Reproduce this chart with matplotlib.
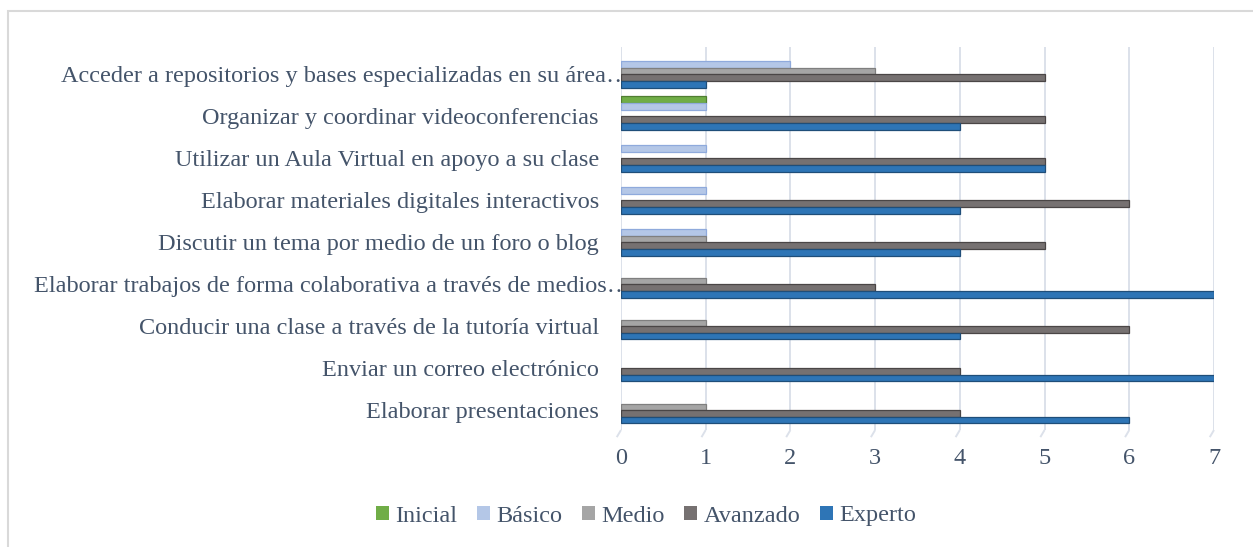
import matplotlib
matplotlib.use("Agg")
import matplotlib.pyplot as plt
import matplotlib.transforms as mtransforms
from matplotlib.patches import Rectangle, Patch
import numpy as np

categories = [
    "Elaborar presentaciones",
    "Enviar un correo electrónico",
    "Conducir una clase a través de la tutoría virtual",
    "Elaborar trabajos de forma colaborativa a través de medios…",
    "Discutir un tema por medio de un foro o blog",
    "Elaborar materiales digitales interactivos",
    "Utilizar un Aula Virtual en apoyo a su clase",
    "Organizar y coordinar videoconferencias",
    "Acceder a repositorios y bases especializadas en su área…",
]
series_names = ["Inicial", "Básico", "Medio", "Avanzado", "Experto"]
inicial  = [0, 0, 0, 0, 0, 0, 0, 1, 0]
basico   = [0, 0, 0, 0, 1, 1, 1, 1, 2]
medio    = [1, 0, 1, 1, 1, 0, 0, 0, 3]
avanzado = [4, 4, 6, 3, 5, 6, 5, 5, 5]
experto  = [6, 7, 4, 7, 4, 4, 5, 4, 1]
xticks = [0, 1, 2, 3, 4, 5, 6, 7]

colors = ["#70AD47", "#B4C7E7", "#A5A5A5", "#767171", "#2E75B6"]
edges = ["#507E32", "#8FAADC", "#7F7F7F", "#4A4646", "#1F4E79"]
text_color = "#44546A"
grid_color = "#DCE1EA"
font = "Liberation Serif"

W, H = 1253, 547
fig = plt.figure(figsize=(W / 100, H / 100), dpi=100)
ax = fig.add_axes([621 / W, 1 - 430 / H, (1214 - 621) / W, (430 - 47) / H])

y = np.arange(len(categories))
h = 0.158
data = [inicial, basico, medio, avanzado, experto]
for j, (vals, c, ec, name) in enumerate(zip(data, colors, edges, series_names)):
    vals = np.asarray(vals)
    mask = vals > 0
    ax.barh((y + (2 - j) * h)[mask], vals[mask], height=h, color=c,
            edgecolor=ec, linewidth=0.9, label=name, zorder=3)

ax.set_xlim(0, 7)
ax.set_ylim(-0.55, 8.57)
ax.set_xticks(xticks)
ax.set_xticklabels([str(t) for t in xticks], fontfamily=font, fontsize=17.5,
                   color=text_color)
ax.set_yticks(y)
ax.set_yticklabels(categories, fontfamily=font, fontsize=17.5, color=text_color)
ax.tick_params(axis="both", length=0)
ax.tick_params(axis="x", pad=13)
ax.tick_params(axis="y", pad=16)
ax.xaxis.grid(True, color=grid_color, linewidth=1.4, zorder=0)
ax.set_axisbelow(True)
for s in ax.spines.values():
    s.set_visible(False)

# small perspective foot under each gridline (as in the 3-D style original)
y0 = ax.get_ylim()[0]
for t in xticks:
    ax.plot([t, t - 0.05], [y0, y0 - 0.17], color=grid_color, lw=1.4,
            clip_on=False, zorder=0, solid_capstyle="butt")

for lbl in ax.get_yticklabels():
    dx = 23 / 72 if lbl.get_text().endswith("…") else 0
    lbl.set_transform(lbl.get_transform() +
                      mtransforms.ScaledTranslation(dx, -2.5 / 72, fig.dpi_scale_trans))

handles = [Patch(facecolor=c, edgecolor="none") for c in colors]
leg = fig.legend(handles, series_names, loc="center", ncol=5,
                 bbox_to_anchor=(646 / W, 1 - 516 / H), frameon=False,
                 prop={"family": font, "size": 17.5}, handlelength=0.55,
                 handleheight=0.55, handletextpad=0.25, columnspacing=0.8)
for t in leg.get_texts():
    t.set_color(text_color)

fig.patches.append(Rectangle((7.5 / W, -0.1), 1.2, 1 + 0.1 - 11 / H,
                             transform=fig.transFigure, fill=False,
                             edgecolor="#D9D9D9", linewidth=1.5))

fig.savefig("out.png", dpi=100, facecolor="white")
